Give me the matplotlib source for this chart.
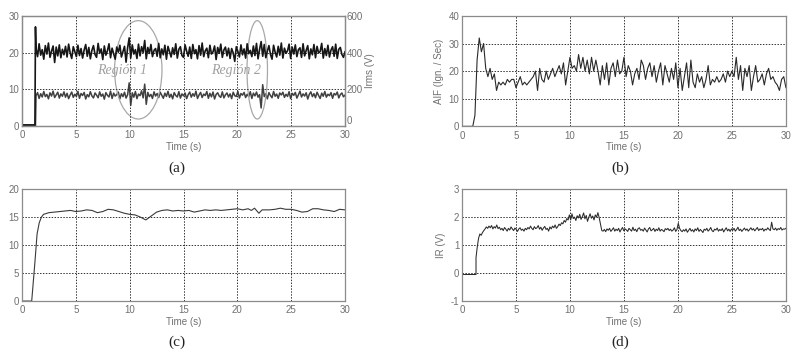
import numpy as np
import matplotlib
matplotlib.use("Agg")
import matplotlib.pyplot as plt
from matplotlib.patches import Ellipse

# ---------------- data ----------------
# (a) two noisy signals, left axis (upper) and right axis Irms (V) (lower)
a_t_head = [0.0, 1.2, 1.25]
a_upper_head = [0.3, 0.3, 27.0]
a_lower_head = [0.0, 0.0, 0.0]
a_t_start, a_t_end = 1.3, 30.0
a_upper = [
    21.2, 18.9, 22.4, 19.3, 20.8, 18.2, 21.9, 19.6, 22.6, 18.7, 20.4, 21.8, 17.3, 21.5, 19.1, 22.1, 18.6, 20.9, 19.4, 21.7,
    18.8, 22.3, 19.9, 18.4, 21.6, 20.2, 18.9, 22.0, 19.2, 21.1, 18.5, 20.7, 22.2, 19.0, 21.4, 18.3, 20.6, 21.9, 19.5, 18.7,
    22.5, 19.8, 21.0, 18.1, 21.8, 19.3, 20.5, 22.4, 18.6, 21.2, 19.7, 18.2, 21.5, 20.1, 22.0, 18.8, 20.3, 21.7, 17.4, 21.3,
    24.0, 18.5, 22.1, 19.6, 20.8, 18.4, 22.3, 19.1, 21.6, 20.0, 23.3, 18.3, 21.4, 19.8, 22.2, 18.9, 20.6, 21.1, 19.0, 22.5,
    18.6, 21.0, 19.4, 22.0, 18.2, 21.7, 20.3, 18.8, 21.3, 19.5, 22.4, 18.5, 20.9, 21.6, 19.2, 18.7, 22.1, 20.4, 19.0, 21.5,
    18.4, 22.2, 19.7, 20.8, 18.3, 21.9, 19.3, 22.6, 18.9, 20.5, 21.2, 18.6, 22.0, 19.6, 20.2, 21.8, 18.1, 21.4, 19.8, 22.3,
    18.7, 20.7, 21.5, 19.1, 21.2, 18.4, 21.1, 19.9, 17.6, 21.6, 20.3, 18.8, 22.1, 19.4, 21.0, 18.5, 22.4, 19.7, 20.6, 18.9,
    21.8, 19.2, 22.5, 18.3, 20.9, 23.0, 19.0, 22.2, 18.6, 20.4, 21.9, 19.5, 18.2, 22.0, 20.1, 18.8, 21.7, 19.3, 22.6, 18.5,
    21.2, 19.8, 20.5, 22.3, 18.4, 21.5, 19.6, 22.1, 18.9, 20.8, 21.3, 18.7, 22.4, 19.1, 20.6, 21.9, 18.3, 21.0, 19.4, 22.2,
    18.6, 21.7, 19.9, 20.3, 22.5, 18.5, 21.1, 19.2, 22.0, 18.8, 20.7, 21.6, 19.0, 22.3, 18.4, 20.9, 21.4, 19.5, 18.7, 20.2,
]
a_lower = [
    165, 182, 150, 176, 158, 188, 160, 172, 148, 181, 163, 190, 155, 170, 184, 152, 175, 162, 186, 157,
    178, 149, 169, 185, 156, 173, 161, 189, 151, 177, 166, 183, 147, 171, 159, 187, 164, 153, 180, 168,
    154, 186, 162, 174, 146, 182, 167, 158, 190, 150, 179, 163, 171, 185, 148, 176, 160, 184, 152, 170,
    235, 112, 181, 157, 188, 149, 174, 165, 192, 153, 228, 118, 183, 160, 172, 150, 186, 163, 177, 155,
    184, 167, 151, 179, 161, 189, 156, 173, 148, 182, 166, 158, 187, 152, 175, 164, 180, 149, 171, 185,
    157, 176, 162, 190, 150, 169, 183, 155, 174, 166, 188, 151, 178, 159, 185, 147, 172, 181, 163, 156,
    186, 153, 170, 180, 158, 175, 149, 184, 165, 161, 189, 152, 177, 168, 183, 155, 173, 160, 187, 150,
    179, 164, 185, 157, 171, 98, 225, 160, 176, 148, 182, 166, 154, 188, 162, 174, 151, 180, 169, 184,
    156, 173, 161, 187, 149, 178, 167, 183, 152, 170, 190, 158, 175, 163, 181, 147, 172, 186, 160, 176,
    154, 184, 166, 150, 179, 162, 188, 157, 173, 165, 182, 151, 177, 169, 185, 153, 171, 180, 159, 168,
]
regions = ["Región 1", "Región 2"]
region_centers = [10.8, 21.85]
region_widths = [4.4, 1.9]
region_text_x = [9.25, 19.9]

# (b) AIF (Ign. / Sec), sampled every 0.2 s from 0 to 30 s
b_t_start, b_t_end = 0.0, 30.0
b_aif = [
    0, 0, 0, 0, 0, 0, 4, 24, 32, 27, 30, 21, 18, 21, 17, 19, 13, 16, 15, 16,
    15, 17, 16, 17, 17, 14, 16, 18, 15, 16, 15, 16, 17, 18, 20, 13, 21, 17, 16, 20,
    17, 19, 21, 18, 20, 22, 19, 23, 15, 20, 25, 21, 22, 20, 26, 21, 25, 20, 24, 19,
    25, 20, 24, 20, 15, 22, 17, 23, 15, 21, 23, 18, 24, 19, 20, 25, 18, 22, 20, 15,
    19, 21, 17, 24, 22, 17, 21, 23, 18, 22, 16, 20, 23, 15, 22, 19, 16, 21, 17, 23,
    14, 21, 13, 18, 23, 14, 24, 16, 14, 19, 16, 18, 14, 17, 22, 15, 17, 16, 18, 16,
    17, 19, 16, 20, 18, 20, 18, 25, 17, 22, 13, 21, 18, 22, 13, 18, 22, 16, 17, 19,
    15, 19, 21, 17, 18, 16, 15, 13, 17, 18, 14,
]

# (c) smooth signal
c_t = [0.0, 0.9, 1.2, 1.4, 1.6, 1.8, 2.0, 2.5, 3.0, 3.5, 4.0, 4.5, 5.0, 5.5, 6.0, 6.5,
       7.0, 7.5, 8.0, 8.5, 9.0, 9.5, 10.0, 10.5, 11.0, 11.5, 12.0, 12.5, 13.0, 13.5,
       14.0, 14.5, 15.0, 15.5, 16.0, 16.5, 17.0, 17.5, 18.0, 18.5, 19.0, 19.5, 20.0,
       20.5, 21.0, 21.3, 21.6, 22.0, 22.3, 23.0, 23.5, 24.0, 24.5, 25.0, 25.5, 26.0,
       26.5, 27.0, 27.5, 28.0, 28.5, 29.0, 29.5, 30.0]
c_val = [0.0, 0.0, 7.0, 12.0, 14.0, 15.0, 15.5, 15.8, 15.9, 16.0, 16.1, 16.2, 16.0, 16.1,
         16.3, 16.2, 15.8, 16.0, 16.4, 16.3, 16.0, 15.7, 15.5, 15.4, 15.0, 14.5, 15.2,
         15.9, 16.2, 16.3, 16.1, 16.2, 16.1, 16.2, 15.9, 16.1, 16.3, 16.2, 16.3, 16.2,
         16.3, 16.4, 16.5, 16.3, 16.5, 16.2, 16.6, 15.7, 16.3, 16.3, 16.4, 16.6, 16.4,
         16.4, 16.2, 15.9, 16.0, 16.5, 16.5, 16.3, 16.2, 16.0, 16.4, 16.3]

# (d) IR (V)
d_t_head = [0.0, 1.3]
d_head = [-0.05, -0.05]
d_t_start, d_t_end = 1.3, 30.0
d_ir = [
    0.55, 0.95, 1.25, 1.4, 1.35, 1.45, 1.52, 1.58, 1.65, 1.6,
    1.68, 1.62, 1.7, 1.58, 1.66, 1.61, 1.72, 1.59, 1.64, 1.55, 1.6, 1.52, 1.63, 1.57, 1.5,
    1.6, 1.54, 1.65, 1.58, 1.52, 1.61, 1.56, 1.49, 1.58, 1.62, 1.53, 1.57, 1.5, 1.6, 1.55,
    1.63, 1.58, 1.68, 1.6, 1.55, 1.66, 1.59, 1.62, 1.7, 1.57, 1.64, 1.53, 1.61, 1.67, 1.56,
    1.6, 1.5, 1.65, 1.58, 1.68, 1.62, 1.72, 1.6, 1.66, 1.75,
    1.7, 1.8, 1.76, 1.88, 1.82, 1.95, 1.9, 2.08,
    1.9, 2.12, 1.95, 2.0, 1.88, 2.05, 1.97, 2.1, 1.92, 2.02, 2.15, 1.94, 2.06, 1.85, 2.0,
    2.12, 1.96, 2.04, 1.9, 2.08, 2.0, 2.16, 1.98,
    1.75, 1.52,
    1.5, 1.56, 1.48, 1.58, 1.53, 1.6, 1.49, 1.55, 1.62, 1.5,
    1.57, 1.52, 1.6, 1.47, 1.56, 1.63, 1.51, 1.58, 1.54, 1.49,
    1.6, 1.55, 1.5, 1.64, 1.52, 1.57, 1.48, 1.59, 1.62, 1.53,
    1.56, 1.5, 1.61, 1.54, 1.47, 1.58, 1.63, 1.51, 1.55, 1.6,
    1.49, 1.57, 1.52, 1.62, 1.5, 1.56, 1.53, 1.48, 1.59, 1.55,
    1.6, 1.52, 1.57, 1.5, 1.54, 1.62, 1.49, 1.56, 1.78, 1.6,
    1.52, 1.48, 1.55, 1.5, 1.58, 1.46, 1.53, 1.6, 1.5, 1.55,
    1.47, 1.58, 1.52, 1.62, 1.49, 1.56, 1.51, 1.45, 1.57, 1.53,
    1.6, 1.5, 1.55, 1.63, 1.52, 1.48, 1.57, 1.54, 1.61, 1.5,
    1.56, 1.52, 1.59, 1.47, 1.55, 1.62, 1.51, 1.57, 1.49, 1.58,
    1.53, 1.6, 1.5, 1.56, 1.64, 1.52, 1.57, 1.49, 1.55, 1.61,
    1.53, 1.58, 1.5, 1.56, 1.62, 1.54, 1.59, 1.51, 1.57, 1.63,
    1.52, 1.58, 1.55, 1.6, 1.5, 1.57, 1.54, 1.62, 1.56, 1.52,
    1.82, 1.58, 1.55, 1.61, 1.53, 1.59, 1.56, 1.63, 1.54, 1.58,
    1.57, 1.6,
]

x_ticks = [0, 5, 10, 15, 20, 25, 30]
panel_labels = ["(a)", "(b)", "(c)", "(d)"]

# ---------------- style ----------------
plt.rcParams["font.family"] = ["Liberation Sans", "DejaVu Sans"]
plt.rcParams["axes.unicode_minus"] = False
TICK_C = "#707070"
SPINE_C = "#8a8a8a"
LINE_C = "#2a2a2a"

fig = plt.figure(figsize=(7.92, 3.61), dpi=100)
fig.patch.set_facecolor("white")


def style_axes(ax, yticks, ylim):
    ax.set_xlim(0, 30)
    ax.set_ylim(*ylim)
    ax.set_xticks(x_ticks)
    ax.set_yticks(yticks)
    ax.grid(True, linestyle=(0, (1.5, 1.5)), color="#333333", linewidth=0.7)
    ax.tick_params(axis="both", labelsize=7, colors=TICK_C, length=0)
    ax.tick_params(axis="x", pad=3)
    ax.tick_params(axis="y", pad=2)
    for s in ax.spines.values():
        s.set_color(SPINE_C)
        s.set_linewidth(0.9)
    ax.set_xlabel("Time (s)", fontsize=7, color=TICK_C, labelpad=1)


pos = {
    "a": [0.0278, 0.651, 0.4078, 0.305],
    "b": [0.5833, 0.650, 0.4090, 0.306],
    "c": [0.0278, 0.166, 0.4078, 0.310],
    "d": [0.5833, 0.166, 0.4090, 0.310],
}

# (a)
ax_a = fig.add_axes(pos["a"])
ta = np.concatenate([a_t_head, np.linspace(a_t_start, a_t_end, len(a_upper))])
ya = np.concatenate([a_upper_head, a_upper])
ax_a2 = ax_a.twinx()
ya2 = np.concatenate([a_lower_head, a_lower])
ax_a2.plot(ta, ya2, color="#404040", linewidth=1.1)
ax_a2.set_ylim(0, 600)
ax_a2.set_yticks([0, 200, 400, 600])
ax_a2.tick_params(axis="y", labelsize=7, colors=TICK_C, length=0, pad=1)
ax_a2.set_ylabel("Irms (V)", fontsize=7, color=TICK_C, labelpad=2)
for s in ax_a2.spines.values():
    s.set_color(SPINE_C)
    s.set_linewidth(0.9)
# lift the right-axis "0" a bit so it does not collide with the x tick "30"
for lab in ax_a2.get_yticklabels():
    if lab.get_text() == "0":
        lab.set_verticalalignment("bottom")
ax_a.set_zorder(ax_a2.get_zorder() + 1)
ax_a.patch.set_visible(False)
ax_a.plot(ta, ya, color="#161616", linewidth=1.2)
style_axes(ax_a, [0, 10, 20, 30], (0, 30))
for name, cx, w, tx in zip(regions, region_centers, region_widths, region_text_x):
    ax_a.add_patch(Ellipse((cx, 15.3), w, 26.8, fill=False, edgecolor="#a8a8a8", linewidth=0.9))
    ax_a.text(tx, 15.0, name, fontsize=10, style="italic", color="#a0a0a0",
              family=["Liberation Serif", "DejaVu Serif"], ha="center", va="center")

# (b)
ax_b = fig.add_axes(pos["b"])
tb = np.linspace(b_t_start, b_t_end, len(b_aif))
ax_b.plot(tb, b_aif, color=LINE_C, linewidth=0.8)
style_axes(ax_b, [0, 10, 20, 30, 40], (0, 40))
ax_b.set_ylabel("AIF (Ign. / Sec)", fontsize=7, color=TICK_C, labelpad=3)

# (c)
ax_c = fig.add_axes(pos["c"])
ax_c.plot(c_t, c_val, color="#3a3a3a", linewidth=0.8)
style_axes(ax_c, [0, 5, 10, 15, 20], (0, 20))

# (d)
ax_d = fig.add_axes(pos["d"])
td = np.concatenate([d_t_head, np.linspace(d_t_start, d_t_end, len(d_ir))])
yd = np.concatenate([d_head, d_ir])
ax_d.plot(td, yd, color=LINE_C, linewidth=0.75)
style_axes(ax_d, [-1, 0, 1, 2, 3], (-1, 3))
ax_d.set_ylabel("IR (V)", fontsize=7, color=TICK_C, labelpad=3)

# panel labels
label_xy = [(177, 168), (620, 168), (177, 342), (620, 342)]
for lab, (px, py) in zip(panel_labels, label_xy):
    fig.text(px / 792, 1 - py / 361, lab, fontsize=11, color="#222222",
             family=["Liberation Serif", "DejaVu Serif"], ha="center", va="center")

fig.savefig("out.png", dpi=100, facecolor="white")
